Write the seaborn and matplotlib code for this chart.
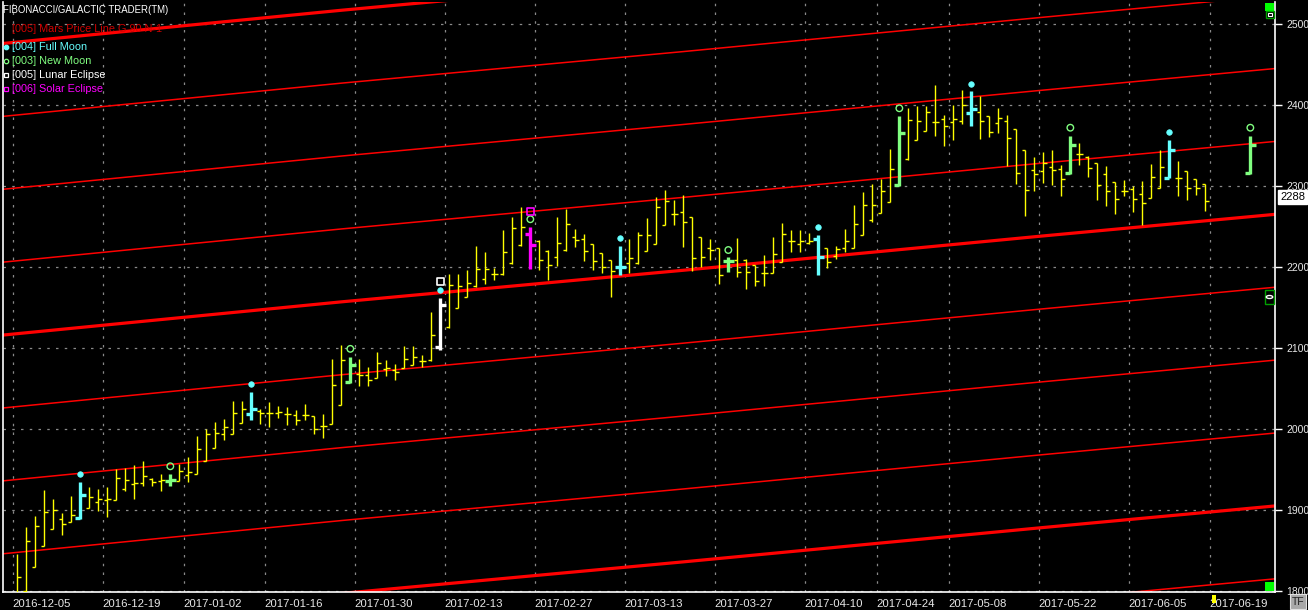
import numpy as np
import matplotlib
matplotlib.use("Agg")
import matplotlib.pyplot as plt
import seaborn as sns
from matplotlib.patches import Rectangle, Circle
from matplotlib.lines import Line2D

# ---- values (one bar per trading day, index 0 = 2016-12-05) ----
opens = [
    1795, 1800, 1830, 1855, 1876, 1889, 1885, 1890, 1903, 1910,
    1912, 1912, 1926, 1932, 1933, 1938, 1936, 1936, 1936, 1943,
    1945, 1960, 1977, 1994, 1994, 2007, 2018, 2022, 2020, 2020,
    2018, 2017, 2017, 2016, 2004, 2006, 2030, 2058, 2068, 2067,
    2063, 2074, 2073, 2075, 2079, 2084, 2085, 2101, 2126, 2149,
    2163, 2176, 2185, 2191, 2191, 2205, 2227, 2241, 2232, 2220,
    2212, 2221, 2237, 2235, 2228, 2217, 2209, 2200, 2205, 2205,
    2220, 2229, 2252, 2266, 2268, 2262, 2237, 2224, 2224, 2207,
    2209, 2209, 2202, 2193, 2193, 2206, 2232, 2228, 2230, 2234,
    2224, 2214, 2224, 2224, 2239, 2258, 2267, 2280, 2301, 2333,
    2357, 2368, 2379, 2383, 2379, 2380, 2390, 2392, 2387, 2378,
    2380, 2370, 2344, 2320, 2318, 2323, 2321, 2316, 2340, 2336,
    2329, 2315, 2305, 2294, 2296, 2290, 2285, 2298, 2310, 2310,
    2319, 2309, 2303]
highs = [
    1846, 1879, 1893, 1925, 1914, 1896, 1917, 1934, 1928, 1926,
    1928, 1951, 1952, 1955, 1960, 1939, 1945, 1945, 1957, 1966,
    1992, 2000, 2009, 2012, 2035, 2034, 2046, 2025, 2033, 2028,
    2027, 2024, 2031, 2016, 2018, 2086, 2104, 2089, 2086, 2076,
    2095, 2085, 2080, 2102, 2103, 2091, 2145, 2162, 2191, 2191,
    2196, 2226, 2218, 2199, 2246, 2262, 2274, 2250, 2233, 2221,
    2262, 2272, 2247, 2241, 2228, 2217, 2209, 2226, 2234, 2243,
    2261, 2287, 2295, 2283, 2289, 2262, 2237, 2235, 2224, 2212,
    2236, 2210, 2202, 2215, 2237, 2254, 2246, 2246, 2242, 2239,
    2224, 2226, 2247, 2277, 2293, 2302, 2309, 2346, 2387, 2396,
    2399, 2399, 2425, 2388, 2400, 2419, 2417, 2411, 2387, 2396,
    2388, 2370, 2344, 2336, 2342, 2344, 2326, 2362, 2353, 2337,
    2329, 2325, 2305, 2307, 2300, 2306, 2327, 2345, 2357, 2331,
    2319, 2309, 2303]
lows = [
    1790, 1798, 1830, 1855, 1876, 1869, 1885, 1889, 1903, 1899,
    1891, 1912, 1924, 1914, 1930, 1930, 1924, 1930, 1936, 1934,
    1945, 1960, 1977, 1986, 1994, 2007, 2011, 2006, 2002, 2013,
    2005, 2005, 2011, 1994, 1989, 2006, 2030, 2057, 2053, 2053,
    2063, 2065, 2060, 2075, 2079, 2076, 2084, 2098, 2125, 2149,
    2163, 2175, 2179, 2184, 2190, 2204, 2226, 2198, 2196, 2184,
    2201, 2220, 2225, 2207, 2196, 2193, 2163, 2190, 2193, 2204,
    2220, 2229, 2252, 2252, 2225, 2195, 2200, 2209, 2179, 2194,
    2188, 2173, 2177, 2177, 2193, 2206, 2218, 2219, 2229, 2190,
    2199, 2210, 2218, 2223, 2239, 2256, 2267, 2280, 2300, 2332,
    2357, 2368, 2362, 2349, 2357, 2376, 2374, 2358, 2360, 2366,
    2325, 2303, 2263, 2294, 2304, 2301, 2288, 2315, 2326, 2311,
    2283, 2275, 2266, 2288, 2268, 2252, 2285, 2298, 2310, 2288,
    2283, 2289, 2269]
closes = [
    1817, 1862, 1880, 1897, 1900, 1883, 1894, 1919, 1916, 1914,
    1914, 1940, 1937, 1933, 1942, 1934, 1937, 1937, 1948, 1947,
    1975, 1994, 1995, 2002, 2020, 2025, 2025, 2020, 2020, 2021,
    2018, 2011, 2017, 2000, 2004, 2054, 2085, 2079, 2067, 2060,
    2081, 2075, 2071, 2087, 2089, 2084, 2116, 2153, 2178, 2176,
    2180, 2197, 2197, 2191, 2219, 2248, 2250, 2227, 2209, 2202,
    2230, 2253, 2233, 2220, 2207, 2200, 2195, 2200, 2211, 2239,
    2239, 2274, 2281, 2266, 2256, 2211, 2212, 2221, 2190, 2207,
    2194, 2194, 2183, 2193, 2216, 2241, 2232, 2232, 2232, 2213,
    2206, 2222, 2232, 2253, 2276, 2276, 2294, 2321, 2365, 2381,
    2380, 2392, 2379, 2374, 2383, 2400, 2395, 2380, 2367, 2384,
    2359, 2316, 2295, 2315, 2329, 2320, 2309, 2351, 2340, 2322,
    2301, 2294, 2284, 2294, 2284, 2279, 2311, 2323, 2344, 2310,
    2298, 2297, 2281]
last_price = 2288

# projected new-moon bar drawn past the last data bar
proj_idx = [137]
proj_open, proj_high, proj_low, proj_close = [2316], [2362], [2315], [2351]

# lunar events (bar index, marker level)
full_idx = [7, 26, 47, 67, 89, 106, 128]
full_dot = [1945, 2056, 2172, 2236, 2249, 2426, 2367]
new_idx = [17, 37, 57, 79, 98, 117, 137]
new_ring = [1954, 2099, 2259, 2221, 2396, 2372, 2372]
lunar_idx, lunar_sq = [47], [2182]
solar_idx, solar_sq = [57], [2269]

# Mars price line (G 90): centre line read at a few bars, parallel copies every 90
mars_x = [-1.6, 36, 74, 113.6, 139.7]
mars_base = [2116, 2157, 2196, 2238, 2265]
mars_offsets = [-5, -4, -3, -2, -1, 0, 1, 2, 3, 4]

tick_idx = [0, 10, 19, 28, 38, 48, 58, 68, 78, 88, 96, 104, 114, 124, 133]
tick_labels = ['2016-12-05', '2016-12-19', '2017-01-02', '2017-01-16', '2017-01-30',
               '2017-02-13', '2017-02-27', '2017-03-13', '2017-03-27', '2017-04-10',
               '2017-04-24', '2017-05-08', '2017-05-22', '2017-06-05', '2017-06-19']
price_ticks = [1800, 1900, 2000, 2100, 2200, 2300, 2400, 2500]

# ---- colours ----
YEL, CYAN, GRN, MAG, RED = '#ffff00', '#66ffff', '#80ff80', '#ff00ff', '#ff0000'
TXT = '#e8e8e8'

sns.set_style("dark", {"axes.facecolor": "black", "figure.facecolor": "black"})
plt.rcParams['font.family'] = ['Liberation Sans', 'DejaVu Sans']

W, H = 1308, 610
fig = plt.figure(figsize=(W / 100, H / 100), dpi=100)
ax = fig.add_axes([3 / W, (H - 592) / H, 1272 / W, 590 / H])
ax.set_facecolor('black')
ax.set_xlim(-1.59, 139.74)
ax.set_ylim(1798.8, 2527.2)

# grid
for p in price_ticks:
    ax.axhline(p, color='#8a8a8a', lw=0.9, ls=(0, (2, 5)), zorder=1)
for t in tick_idx:
    ax.axvline(t - 0.5, color='#8a8a8a', lw=0.9, ls=(0, (2, 5)), zorder=1)

# Mars price lines
for k in mars_offsets:
    sns.lineplot(x=mars_x, y=np.array(mars_base) + 90 * k, ax=ax, color=RED,
                 lw=2.3 if k % 4 == 0 else 1.1, estimator=None, sort=False,
                 legend=False, zorder=2)

# OHLC bars
n = len(closes)
x = np.arange(n)
colors = [YEL] * n
thick = [False] * n
for i in full_idx:
    if i < n:
        colors[i], thick[i] = CYAN, True
for i in new_idx:
    if i < n:
        colors[i], thick[i] = GRN, True
for i in lunar_idx:
    colors[i] = 'white'
for i in solar_idx:
    colors[i] = MAG
thick = np.array(thick)
cols = np.array(colors)
o, h, l, c = map(np.array, (opens, highs, lows, closes))

thin = ~thick
ax.vlines(x[thin], l[thin], h[thin], colors=cols[thin], lw=1.0, zorder=3)
ax.hlines(o[thin], x[thin] - 0.42, x[thin], colors=cols[thin], lw=1.0, zorder=3)
ax.hlines(c[thin], x[thin], x[thin] + 0.42, colors=cols[thin], lw=1.0, zorder=3)

ax.vlines(x[thick], l[thick], h[thick], colors=cols[thick], lw=2.4, zorder=4)
ax.hlines(o[thick], x[thick] - 0.6, x[thick], colors=cols[thick], lw=2.4, zorder=4)
ax.hlines(c[thick], x[thick], x[thick] + 0.6, colors=cols[thick], lw=2.4, zorder=4)

# projected new-moon bar
ax.vlines(proj_idx, proj_low, proj_high, colors=GRN, lw=2.4, zorder=4)
ax.hlines(proj_open, np.array(proj_idx) - 0.6, proj_idx, colors=GRN, lw=2.4, zorder=4)
ax.hlines(proj_close, proj_idx, np.array(proj_idx) + 0.6, colors=GRN, lw=2.4, zorder=4)

# moon / eclipse markers
sns.scatterplot(x=full_idx, y=full_dot, ax=ax, color=CYAN, marker='o', s=16,
                edgecolor=CYAN, linewidth=0.5, legend=False, zorder=5)
ax.scatter(new_idx, new_ring, s=22, marker='o', facecolors='none',
           edgecolors=GRN, linewidths=1.0, zorder=5)
ax.scatter(lunar_idx, lunar_sq, s=30, marker='s', facecolors='none',
           edgecolors='white', linewidths=1.2, zorder=5)
ax.scatter(solar_idx, solar_sq, s=26, marker='s', facecolors='none',
           edgecolors=MAG, linewidths=1.2, zorder=5)

# axes frame / ticks
for side in ['left', 'bottom', 'right']:
    ax.spines[side].set_color('white')
    ax.spines[side].set_linewidth(1.2)
    ax.spines[side].set_visible(True)
ax.spines['top'].set_visible(False)

ax.yaxis.tick_right()
ax.set_yticks(price_ticks)
ax.set_yticklabels([str(p) for p in price_ticks])
ax.tick_params(axis='y', which='both', right=True, left=False, length=5, width=1,
               color='white', labelcolor=TXT, labelsize=7.5, pad=3, direction='out')
ax.set_xticks(np.array(tick_idx) - 0.5)
ax.set_xticklabels(tick_labels, ha='left')
ax.tick_params(axis='x', bottom=False, length=0, labelcolor=TXT, labelsize=8.2, pad=5)
ax.grid(False)
ax.set_xlabel('')
ax.set_ylabel('')


def fp(px, py):
    return px / W, 1 - py / H


# header / legend text
fig.text(*fp(3, 10), 'FIBONACCI/GALACTIC TRADER(TM)', color='white', fontsize=6.9, va='center')
fig.text(*fp(12, 29), '[005] Mars Price Line G 90 N-1', color='#d00000', fontsize=7.8, va='center')
legend_rows = [('[004] Full Moon', CYAN, 47, 'o', CYAN),
               ('[003] New Moon', GRN, 61, 'o', 'none'),
               ('[005] Lunar Eclipse', 'white', 75, 's', 'none'),
               ('[006] Solar Eclipse', MAG, 89, 's', 'none')]
for label, col, py, mk, face in legend_rows:
    fig.text(*fp(12, py), label, color=col, fontsize=7.8, va='center')
    mx, my = fp(6, py)
    fig.add_artist(Line2D([mx], [my], marker=mk, ms=3.2, mfc=face, mec=col, mew=0.9,
                          transform=fig.transFigure))


# right-edge decorations
def fig_rect(px, py, pw, ph, **kw):
    fig.add_artist(Rectangle((px / W, 1 - (py + ph) / H), pw / W, ph / H,
                             transform=fig.transFigure, **kw))


fig_rect(1265, 3, 9, 8, facecolor='#00ff00', edgecolor='none')
fig_rect(1266, 11, 8, 7, facecolor='black', edgecolor='#00a000', lw=1)
fig_rect(1268, 13, 4, 3, facecolor='none', edgecolor='white', lw=0.8)
fig_rect(1265, 582, 9, 9, facecolor='#00ff00', edgecolor='none')
fig_rect(1265, 290, 9, 14, facecolor='black', edgecolor='#00a000', lw=1)
fig.add_artist(Circle(fp(1269.5, 297), 3.2 / W, transform=fig.transFigure,
                      facecolor='none', edgecolor='white', lw=1))
fig_rect(1212, 595, 4, 8, facecolor=YEL, edgecolor='none')

# last price tag and TF button
fig.text(*fp(1280, 197), str(last_price), color='black', fontsize=8, va='center',
         bbox=dict(boxstyle='square,pad=0.15', facecolor='white', edgecolor='white'))
fig_rect(1290, 594, 16, 15, facecolor='#a8a8a8', edgecolor='#e0e0e0', lw=0.8)
fig.text(*fp(1298, 602), 'TF', color='#202020', fontsize=7.5, va='center', ha='center')

fig.savefig('out.png', dpi=100, facecolor='black')
